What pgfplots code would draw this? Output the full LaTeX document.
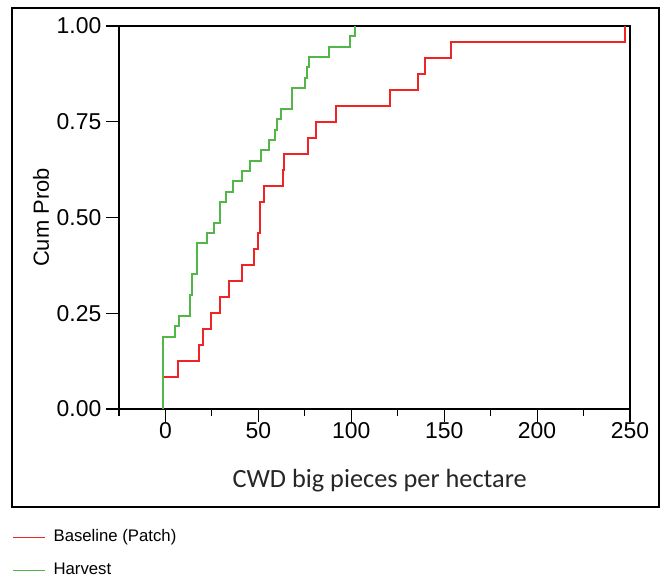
\documentclass[border=0pt]{standalone}
\usepackage{pgfplots}
\pgfplotsset{compat=1.18}
\usepackage{pgfplotstable}
\usepackage{fontspec}
\setmainfont{Liberation Sans}
\newfontfamily\carlito{Carlito}
\definecolor{cred}{RGB}{240,36,36}
\definecolor{cgreen}{RGB}{82,182,72}

\pgfplotstableread{
x y
-1.5 0
-1.5 0.0833
6.6 0.125
17.9 0.1667
20.1 0.2083
24.6 0.25
29.5 0.2917
34.1 0.3333
41.1 0.375
47.4 0.4167
49.7 0.4583
51.0 0.5417
53.3 0.5833
63.2 0.625
63.7 0.6667
76.7 0.7083
81.2 0.75
91.6 0.7917
121.1 0.8333
135.9 0.875
139.5 0.9167
153.4 0.9583
247.3 1.0
}\redtab

\pgfplotstableread{
x y
-1.5 0
-1.5 0.1892
5.4 0.2162
7.5 0.2432
13.3 0.2973
14.4 0.3514
16.9 0.4324
22.5 0.4595
26.0 0.4865
29.5 0.5405
32.7 0.5676
36.3 0.5946
41.1 0.6216
45.3 0.6486
51.2 0.6757
55.6 0.7027
59.2 0.7297
60.1 0.7568
62.3 0.7838
68.2 0.8378
75.2 0.8649
76.3 0.8919
77.4 0.9189
88.0 0.9459
99.1 0.9730
101.8 1.0
}\greentab

\begin{document}
\begin{tikzpicture}
\path[use as bounding box] (-119bp,-168bp) rectangle (546bp,409bp);
\begin{axis}[
  scale only axis, width=511bp, height=383bp,
  at={(0,0)}, anchor=south west,
  xmin=-25, xmax=250, ymin=0, ymax=1,
  xtick={0,50,100,150,200,250},
  minor xtick={-25,25,75,125,175,225},
  ytick={0,0.25,0.5,0.75,1},
  tick align=outside, tick pos=left,
  major tick length=13bp, minor tick length=7bp,
  every tick/.style={black, line width=1.1pt},
  axis line style={black, line width=1.2pt},
  tick label style={font=\fontsize{23}{27}\selectfont, inner sep=0pt},
  /pgf/number format/assume math mode=true,
  yticklabel style={xshift=-4.5bp, /pgf/number format/.cd, fixed, fixed zerofill, precision=2},
  xlabel={CWD big pieces per hectare},
  xlabel style={font=\carlito\fontsize{26.4}{30}\selectfont, color=black!85, at={(axis description cs:0.51,-0.2037)}, anchor=base, inner sep=0pt},
  ylabel={Cum Prob},
  ylabel style={font=\fontsize{22}{26}\selectfont, at={(axis description cs:-0.137,0.5)}, anchor=base, inner sep=0pt},
  legend style={draw=none, fill=none, at={(axis description cs:-0.2094,-0.3146)}, anchor=north west,
    inner sep=0pt, row sep=17bp, font=\fontsize{16.8}{20}\selectfont,
    nodes={inner ysep=0pt, inner xsep=0pt, text height=12bp, text depth=4bp}},
  legend cell align=left,
  legend image code/.code={\draw[#1, line width=1.4bp] (0bp,0bp) -- (32bp,0bp);},
]
\addplot[const plot, draw=cred, line width=2bp, line join=miter] table {\redtab};
\addlegendentry{\hspace{8bp}Baseline (Patch)}
\addplot[const plot, draw=cgreen, line width=2bp, line join=miter] table {\greentab};
\addlegendentry{\hspace{8bp}Harvest}
\end{axis}
\draw[black, line width=1.5bp] (-107bp,-98bp) rectangle (540bp,401bp);
\end{tikzpicture}
\end{document}
